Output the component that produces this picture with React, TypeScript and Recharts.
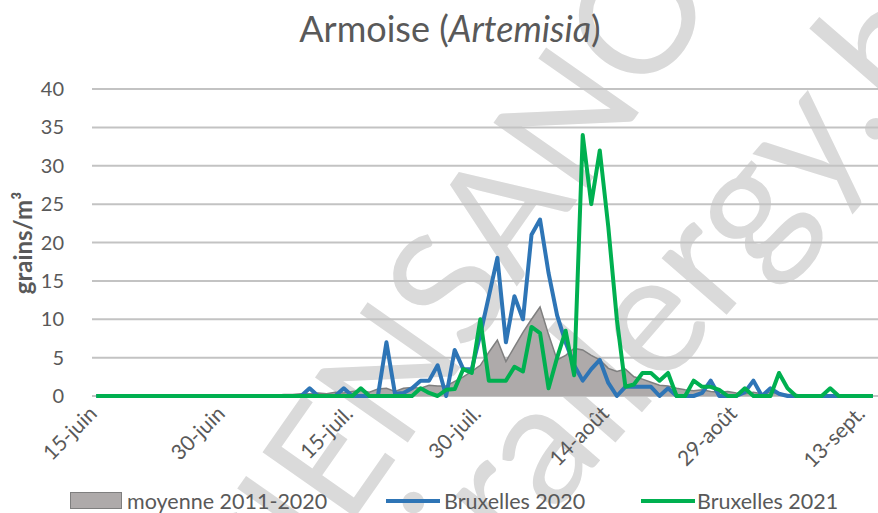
import React from 'react';
import { ComposedChart, Area, Line, XAxis, YAxis, CartesianGrid } from 'recharts';

// one value per day, starting 15-juin
const avgValues = [
  0, 0, 0, 0, 0, 0, 0, 0, 0, 0,
  0, 0, 0, 0, 0, 0, 0, 0, 0, 0,
  0.1, 0.1, 0.2, 0.2, 0.3, 0.3, 0.4, 0.3, 0.5, 0.4,
  0.6, 0.7, 0.5, 0.9, 1.0, 0.6, 1.0, 1.1, 1.0, 1.4,
  1.3, 1.3, 1.9, 2.5, 3.2, 4.0, 5.7, 7.3, 4.5, 6.4,
  8.3, 10.0, 11.6, 8.0, 4.7, 5.3, 6.2, 6.0, 5.3, 4.7,
  3.6, 3.2, 3.5, 2.5, 2.2, 1.8, 1.4, 1.3, 1.0, 0.8,
  0.7, 0.8, 0.6, 0.5, 0.6, 0.4, 0.3, 0.5, 0.3, 0.5,
  0.3, 0.2, 0.2, 0.1, 0.1, 0, 0, 0, 0, 0,
  0, 0,
];

const bxl2020 = [
  0, 0, 0, 0, 0, 0, 0, 0, 0, 0,
  0, 0, 0, 0, 0, 0, 0, 0, 0, 0,
  0, 0, 0, 0, 0, 1, 0, 0, 0, 1,
  0, 0, 0, 0, 7, 0.3, 0.4, 1, 2, 2,
  4, 0, 6, 3.5, 3.5, 8, 13, 18, 7, 13,
  10, 21, 23, 16, 10.5, 7, 4, 2, 3.5, 4.7,
  1.7, 0, 1.2, 1.2, 1.2, 1.2, 0, 1, 0, 0,
  0, 0.4, 2, 0, 0, 0, 0.5, 2, 0, 1,
  0.3, 0, 0, 0, 0, 0, 0, 0, 0, 0,
  0, 0,
];

const bxl2021 = [
  0, 0, 0, 0, 0, 0, 0, 0, 0, 0,
  0, 0, 0, 0, 0, 0, 0, 0, 0, 0,
  0, 0, 0, 0, 0, 0, 0, 0, 0, 0,
  0, 1, 0, 0, 0, 0, 0, 0, 1, 0.4,
  0, 0.8, 0.9, 3.5, 3, 10, 2, 2, 2, 3.8,
  3.2, 9, 8.2, 1, 5, 8.5, 2.7, 34, 25, 32,
  22, 10, 1.2, 1.5, 3, 3, 2, 3, 0, 0,
  2, 1.2, 1.2, 0.8, 0, 0, 1, 0, 0, 0,
  3, 1, 0, 0, 0, 0, 1, 0, 0, 0,
  0, 0,
];

const tickDays = [0, 15, 30, 45, 60, 75, 90];
const tickLabels = ['15-juin', '30-juin', '15-juil.', '30-juil.', '14-août', '29-août', '13-sept.'];
const yTicks = [0, 5, 10, 15, 20, 25, 30, 35, 40];

const data = avgValues.map((v, i) => ({
  d: i,
  avg: v,
  b2020: bxl2020[i],
  b2021: bxl2021[i],
}));

const TEXT = '#595959';
const FONT = 'Lato, "Open Sans", sans-serif';

const XTick = (props: any) => {
  const { x, y, payload } = props;
  const idx = tickDays.indexOf(payload.value);
  const tx = x + 2;
  const ty = y + 17;
  return (
    <text x={tx} y={ty} transform={`rotate(-45 ${tx} ${ty})`} textAnchor="end"
      fontSize={21} fill={TEXT} fontFamily={FONT}>
      {idx >= 0 ? tickLabels[idx] : ''}
    </text>
  );
};

// light grey watermark behind the plot
const Watermark = () => (
  <svg width={878} height={513} style={{ position: 'absolute', left: 0, top: 0 }}>
    <text x={212} y={722} transform="rotate(-55 212 722)" fontSize={158}
      fill="#dadada" fontFamily={FONT}>SCIENSANO</text>
    <text x={430} y={656} transform="rotate(-49 430 656)" fontSize={170}
      fill="#dadada" fontFamily={FONT}>airallergy.be</text>
  </svg>
);

const LegendRow = () => (
  <div style={{ position: 'absolute', left: 0, top: 488, width: 878, height: 25, fontFamily: FONT, fontSize: 21.5, color: TEXT }}>
    <div style={{ position: 'absolute', left: 70, top: 4, width: 52, height: 17, background: '#aeaaaa', border: '1.5px solid #7f7f7f', boxSizing: 'border-box' }} />
    <div style={{ position: 'absolute', left: 127, top: 0, whiteSpace: 'nowrap' }}>moyenne 2011-2020</div>
    <div style={{ position: 'absolute', left: 386, top: 11, width: 54, height: 4, background: '#2e75b6' }} />
    <div style={{ position: 'absolute', left: 444, top: 0, whiteSpace: 'nowrap' }}>Bruxelles 2020</div>
    <div style={{ position: 'absolute', left: 641, top: 11, width: 54, height: 4, background: '#00b050' }} />
    <div style={{ position: 'absolute', left: 697, top: 0, whiteSpace: 'nowrap' }}>Bruxelles 2021</div>
  </div>
);

export default function App() {
  return (
    <div style={{ position: 'absolute', left: 0, top: 0, width: 878, height: 513, background: '#fff', overflow: 'hidden' }}>
      <Watermark />
      <div style={{ position: 'absolute', left: 0, top: 6, width: 900, textAlign: 'center', fontFamily: FONT, fontSize: 36, color: TEXT }}>
        Armoise (<i>Artemisia</i>)
      </div>
      <div style={{ position: 'absolute', left: 22, top: 243, transform: 'translate(-50%, -50%) rotate(-90deg)', fontFamily: FONT, fontSize: 24, fontWeight: 700, color: TEXT, whiteSpace: 'nowrap' }}>
        grains/m³
      </div>
      <div style={{ position: 'absolute', left: 0, top: 0 }}>
        <ComposedChart width={878} height={513} data={data}
          margin={{ top: 89, right: 0, bottom: 0, left: 0 }}>
          <CartesianGrid vertical={false} stroke="#c3c3c3" strokeWidth={2} />
          <XAxis type="number" dataKey="d" domain={[-0.5, 91.6]} ticks={tickDays}
            allowDataOverflow axisLine={false} tickLine={false} tickSize={0}
            height={117} interval={0} tick={<XTick />} />
          <YAxis domain={[0, 40]} ticks={yTicks} width={92} axisLine={false}
            tickLine={false} tickSize={0} tickMargin={28}
            tick={{ fontSize: 20, fill: TEXT, fontFamily: FONT }} />
          <Area type="linear" dataKey="avg" fill="#aeaaaa" fillOpacity={1}
            stroke="#7f7f7f" strokeWidth={1.5} isAnimationActive={false} />
          <Line type="linear" dataKey="b2020" stroke="#2e75b6" strokeWidth={4}
            dot={false} strokeLinejoin="round" isAnimationActive={false} />
          <Line type="linear" dataKey="b2021" stroke="#00b050" strokeWidth={4}
            dot={false} strokeLinejoin="round" isAnimationActive={false} />
        </ComposedChart>
      </div>
      <LegendRow />
    </div>
  );
}
